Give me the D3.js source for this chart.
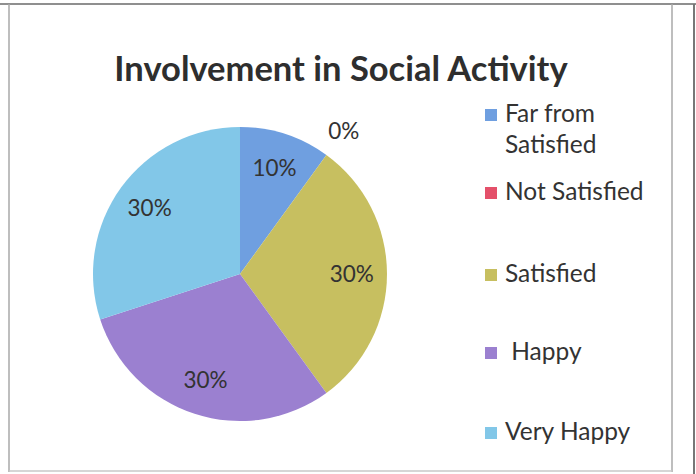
<!DOCTYPE html>
<html>
<head>
<meta charset="utf-8">
<script src="https://cdn.jsdelivr.net/npm/d3@7"></script>
<style>
  body { margin: 0; background: #fff; }
  svg { display: block; font-family: Lato, "Open Sans", sans-serif; }
</style>
</head>
<body>
<div class="piechart"></div>
<script>
const categories = ['Far from Satisfied', 'Not Satisfied', 'Satisfied', ' Happy', 'Very Happy'];
const legendLines = [['Far from', 'Satisfied'], ['Not Satisfied'], ['Satisfied'], [' Happy'], ['Very Happy']];
const values = [10, 0, 30, 30, 30];
const labels = ['10%', '0%', '30%', '30%', '30%'];
const colors = ['#6f9fe0', '#e4506a', '#c7bf60', '#9b80d0', '#82c7e8'];
const title = 'Involvement in Social Activity';

const width = 696, height = 474;
const cx = 240, cy = 274, radius = 147;

const svg = d3.select('.piechart').append('svg')
    .attr('width', width)
    .attr('height', height);

// frame of the scanned chart
svg.append('line').attr('x1', 0).attr('x2', width).attr('y1', 4).attr('y2', 4)
    .attr('stroke', '#6a6a6a').attr('stroke-width', 1.5);
svg.append('line').attr('x1', 9).attr('x2', 9).attr('y1', 4).attr('y2', 472)
    .attr('stroke', '#a8a8a8').attr('stroke-width', 1.5);
svg.append('line').attr('x1', 672).attr('x2', 672).attr('y1', 4).attr('y2', 472)
    .attr('stroke', '#a8a8a8').attr('stroke-width', 1.5);
svg.append('line').attr('x1', 9).attr('x2', 672).attr('y1', 471).attr('y2', 471)
    .attr('stroke', '#c8c8c8').attr('stroke-width', 1.5);
svg.append('line').attr('x1', 694).attr('x2', 694).attr('y1', 4).attr('y2', height)
    .attr('stroke', '#777').attr('stroke-width', 2);

svg.append('text')
    .attr('x', 341)
    .attr('y', 81)
    .attr('text-anchor', 'middle')
    .attr('font-size', 34.5)
    .attr('font-weight', 'bold')
    .attr('fill', '#2e2e2e')
    .text(title);

const pie = d3.pie().sort(null).value(d => d);
const arcs = pie(values);

const arc = d3.arc().innerRadius(0).outerRadius(radius);
const labelArc = d3.arc().innerRadius(radius * 0.76).outerRadius(radius * 0.76);
const outerLabelArc = d3.arc().innerRadius(radius * 1.2).outerRadius(radius * 1.2);

const g = svg.append('g').attr('transform', `translate(${cx},${cy})`);

g.selectAll('path')
    .data(arcs)
    .join('path')
    .attr('d', arc)
    .attr('fill', (d, i) => colors[i]);

g.selectAll('text')
    .data(arcs)
    .join('text')
    .attr('transform', (d, i) => {
        const c = d.value === 0 ? outerLabelArc.centroid(d) : labelArc.centroid(d);
        return `translate(${c})`;
    })
    .attr('text-anchor', 'middle')
    .attr('dy', '0.35em')
    .attr('font-size', 22.5)
    .attr('fill', '#333')
    .text((d, i) => labels[i]);

// legend
const legendY = [122, 200, 282, 360, 440];
const legend = svg.append('g');
legendLines.forEach((lines, i) => {
    legend.append('rect')
        .attr('x', 485)
        .attr('y', legendY[i] - 13)
        .attr('width', 12)
        .attr('height', 12)
        .attr('fill', colors[i]);
    const t = legend.append('text')
        .attr('x', 505)
        .attr('y', legendY[i])
        .attr('font-size', 24.5)
        .attr('fill', '#333')
        .attr('xml:space', 'preserve')
        .style('white-space', 'pre');
    lines.forEach((line, j) => {
        t.append('tspan')
            .attr('x', 505)
            .attr('dy', j === 0 ? 0 : 31)
            .text(line);
    });
});
</script>
</body>
</html>
